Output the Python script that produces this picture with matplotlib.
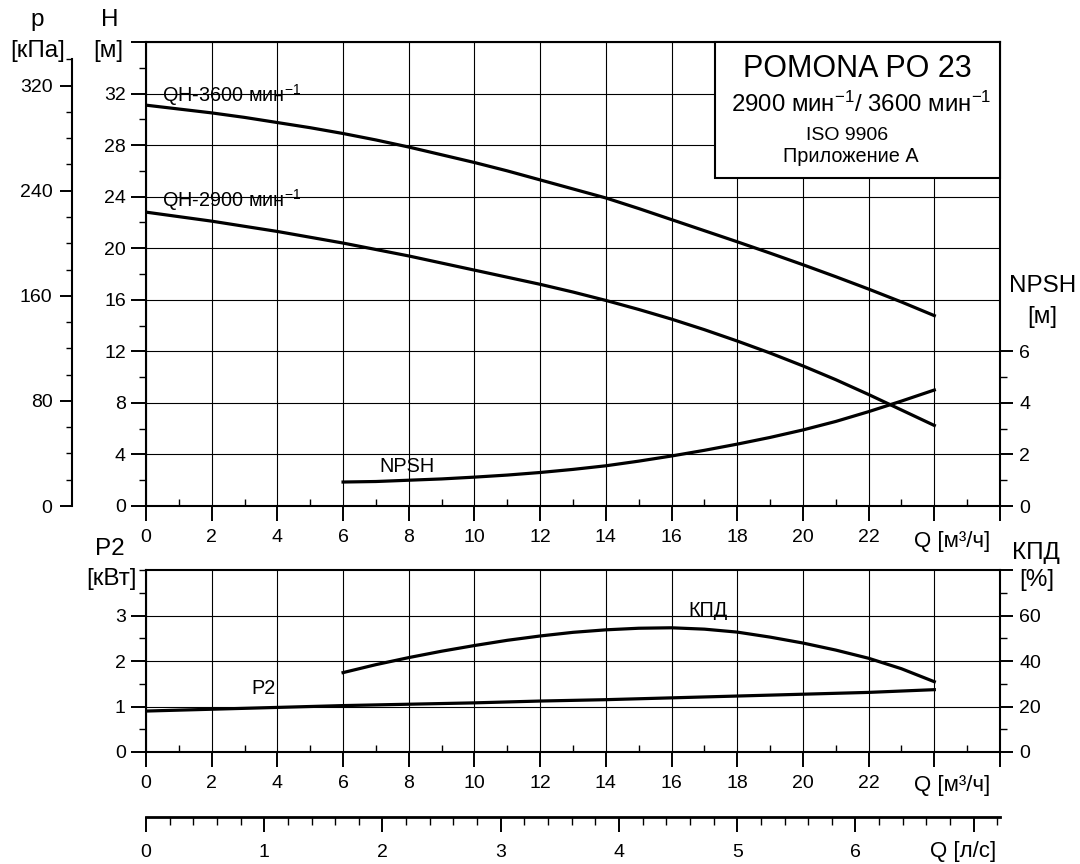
import matplotlib
matplotlib.use("Agg")
import matplotlib.pyplot as plt
from matplotlib.patches import Rectangle
from matplotlib.ticker import MultipleLocator, FixedLocator

plt.rcParams['font.family'] = ['Liberation Sans', 'DejaVu Sans']
plt.rcParams['mathtext.fontset'] = 'custom'
plt.rcParams['mathtext.rm'] = 'Liberation Sans'
plt.rcParams['mathtext.it'] = 'Liberation Sans:italic'

# --- data ---
q = list(range(0, 25))                                          # m3/h
h_3600 = [31.1, 30.8, 30.5, 30.15, 29.75, 29.35, 28.9, 28.4, 27.85, 27.25, 26.65, 26.0,
          25.3, 24.6, 23.9, 23.08, 22.22, 21.36, 20.5, 19.62, 18.72, 17.79, 16.83, 15.83,
          14.77]
h_2900 = [22.8, 22.45, 22.1, 21.7, 21.3, 20.85, 20.4, 19.9, 19.4, 18.85, 18.3, 17.75, 17.2,
          16.6, 15.95, 15.25, 14.5, 13.68, 12.8, 11.87, 10.87, 9.8, 8.65, 7.45, 6.25]

q_p2 = [0, 2, 4, 6, 8, 10, 12, 14, 16, 18, 20, 22, 24]
p2 = [0.9, 0.94, 0.98, 1.02, 1.05, 1.08, 1.12, 1.15, 1.19, 1.23, 1.27, 1.31, 1.37]

q_npsh = list(range(6, 25))
npsh = [0.93, 0.95, 1.0, 1.05, 1.12, 1.2, 1.3, 1.42, 1.56, 1.74, 1.94, 2.16, 2.4, 2.66,
        2.95, 3.28, 3.66, 4.07, 4.5]
eff = [34.9, 38.4, 41.5, 44.3, 46.8, 49.1, 51.0, 52.6, 53.7, 54.4, 54.6, 54.0, 52.7, 50.5,
       47.9, 44.8, 41.2, 36.6, 30.9]

q_labels = ['0', '2', '4', '6', '8', '10', '12', '14', '16', '18', '20', '22', '', '']
h_labels = ['0', '4', '8', '12', '16', '20', '24', '28', '32', '']
ls_labels = ['0', '1', '2', '3', '4', '5', '6', '']

W, H = 1080, 864
BLACK = 'black'
SPINE_W = 1.5
FS = 14
LBL = 17.5


def rect(l, t, r, b):
    return [l / W, 1 - b / H, (r - l) / W, (b - t) / H]


def ftext(x, y, s, size=LBL, ha='center', va='center'):
    fig.text(x / W, 1 - y / H, s, fontsize=size, ha=ha, va=va)


def style_q_axis(a):
    a.set_xlim(0, 26)
    a.xaxis.set_major_locator(FixedLocator(range(0, 27, 2)))
    a.xaxis.set_minor_locator(MultipleLocator(1))
    a.set_xticklabels(q_labels)
    a.tick_params(axis='x', which='major', direction='out', length=10.5,
                  width=1.4, pad=6, labelsize=FS)
    a.tick_params(axis='x', which='minor', direction='in', length=5, width=1)
    for s in a.spines.values():
        s.set_linewidth(SPINE_W)


fig = plt.figure(figsize=(10.8, 8.64), dpi=100)

# ---------------- top chart: H, p, NPSH ----------------
ax = fig.add_axes(rect(146, 42, 1000, 506))
style_q_axis(ax)
ax.set_ylim(0, 36)
ax.yaxis.set_major_locator(FixedLocator(range(0, 37, 4)))
ax.yaxis.set_minor_locator(MultipleLocator(2))
ax.set_yticklabels(h_labels)
ax.tick_params(axis='y', which='major', direction='out', length=10.5, width=1.4,
               pad=4, labelsize=FS)
ax.tick_params(axis='y', which='minor', direction='out', length=5, width=1)
ax.grid(True, which='major', color=BLACK, linewidth=0.8)
ax.set_axisbelow(True)

ax.plot(q, h_3600, color=BLACK, lw=2.3, zorder=3)
ax.plot(q, h_2900, color=BLACK, lw=2.3, zorder=3)
ax.text(0.5, 31.9, 'QH-3600 мин$^{-1}$', fontsize=14.3, va='center', zorder=4)
ax.text(0.5, 23.7, 'QH-2900 мин$^{-1}$', fontsize=14.3, va='center', zorder=4)

# info box
box_x0 = (715 - 146) / 854
box_y0 = (506 - 178) / 464
ax.add_patch(Rectangle((box_x0, box_y0), 1 - box_x0, 1 - box_y0, transform=ax.transAxes,
                       facecolor='white', edgecolor=BLACK, lw=SPINE_W, zorder=5,
                       clip_on=False))

# NPSH axis on the right
ax_n = ax.twinx()
ax_n.set_ylim(0, 18)
for s in ax_n.spines.values():
    s.set_visible(False)
ax_n.yaxis.set_major_locator(FixedLocator([0, 2, 4, 6]))
ax_n.yaxis.set_minor_locator(FixedLocator([1, 3, 5]))
ax_n.tick_params(axis='y', which='major', direction='out', length=9, width=1.4,
                 pad=5, labelsize=FS)
ax_n.tick_params(axis='y', which='minor', direction='out', length=5, width=1)
ax_n.plot(q_npsh, npsh, color=BLACK, lw=2.3, zorder=3)
ax_n.text(7.1, 1.55, 'NPSH', fontsize=14.3, va='center')

# pressure axis on the far left
ax_p = ax.twinx()
ax_p.set_ylim(0, 36 * 9.81)
for k in ['top', 'right', 'bottom']:
    ax_p.spines[k].set_visible(False)
ax_p.spines['left'].set_visible(True)
ax_p.spines['left'].set_position(('axes', -74 / 854))
ax_p.spines['left'].set_bounds(0, 340)
ax_p.spines['left'].set_linewidth(SPINE_W)
ax_p.yaxis.set_ticks_position('left')
ax_p.yaxis.set_major_locator(FixedLocator([0, 80, 160, 240, 320]))
ax_p.yaxis.set_minor_locator(FixedLocator([20, 40, 60, 100, 120, 140, 180, 200, 220,
                                           260, 280, 300, 340]))
ax_p.tick_params(axis='y', which='major', direction='out', length=9, width=1.4,
                 pad=5, labelsize=FS)
ax_p.tick_params(axis='y', which='minor', direction='out', length=4, width=1)

# ---------------- bottom chart: P2, efficiency ----------------
ax2 = fig.add_axes(rect(146, 570, 1000, 752))
style_q_axis(ax2)
ax2.set_ylim(0, 4)
ax2.yaxis.set_major_locator(FixedLocator([0, 1, 2, 3]))
ax2.yaxis.set_minor_locator(FixedLocator([0.5, 1.5, 2.5, 3.5, 4]))
ax2.tick_params(axis='y', which='major', direction='out', length=10.5, width=1.4,
                pad=4, labelsize=FS)
ax2.tick_params(axis='y', which='minor', direction='out', length=5, width=1)
ax2.grid(True, which='major', color=BLACK, linewidth=0.8)
ax2.set_axisbelow(True)
ax2.plot(q_p2, p2, color=BLACK, lw=2.3, zorder=3)
ax2.text(3.2, 1.39, 'P2', fontsize=14.3, va='center')

ax2r = ax2.twinx()
ax2r.set_ylim(0, 80)
for s in ax2r.spines.values():
    s.set_visible(False)
ax2r.yaxis.set_major_locator(FixedLocator([0, 20, 40, 60, 80]))
ax2r.yaxis.set_minor_locator(FixedLocator([10, 30, 50, 70]))
ax2r.set_yticklabels(['0', '20', '40', '60', ''])
ax2r.tick_params(axis='y', which='major', direction='out', length=9, width=1.4,
                 pad=5, labelsize=FS)
ax2r.tick_params(axis='y', which='minor', direction='out', length=5, width=1)
ax2r.plot(q_npsh, eff, color=BLACK, lw=2.3, zorder=3)
ax2r.text(16.5, 62.2, 'КПД', fontsize=14.3, va='center')

# ---------------- l/s scale ----------------
ax3 = fig.add_axes(rect(146, 816, 1000, 817))
ax3.set_xlim(0, 26 / 3.6)
ax3.set_yticks([])
for k in ['top', 'left', 'right']:
    ax3.spines[k].set_visible(False)
ax3.spines['bottom'].set_linewidth(SPINE_W + 0.5)
ax3.patch.set_visible(False)
ax3.xaxis.set_major_locator(FixedLocator(range(0, 8)))
ax3.xaxis.set_minor_locator(MultipleLocator(0.2))
ax3.set_xticklabels(ls_labels)
ax3.tick_params(axis='x', which='major', direction='out', length=10.5, width=1.4,
                pad=9, labelsize=FS)
ax3.tick_params(axis='x', which='minor', direction='out', length=6, width=1)

# ---------------- axis titles / units ----------------
ftext(37, 20, 'p')
ftext(38, 51, '[кПа]')
ftext(110, 20, 'H')
ftext(108, 51, '[м]')
ftext(1043, 286, 'NPSH')
ftext(1042, 317, '[м]')
ftext(952, 541, 'Q [м³/ч]', size=16)
ftext(110, 549, 'P2')
ftext(111, 579, '[кВт]')
ftext(1036, 553, 'КПД')
ftext(1037, 580, '[%]')
ftext(952, 786, 'Q [м³/ч]', size=16)
ftext(963, 852, 'Q [л/с]', size=16)

# box texts
ftext(857, 77, 'POMONA PO 23', size=22, va='baseline')
ftext(861, 112, '2900 мин$^{-1}$/ 3600 мин$^{-1}$', size=17.3, va='baseline')
ftext(847, 140, 'ISO 9906', size=14, va='baseline')
ftext(851, 162, 'Приложение А', size=14.3, va='baseline')

fig.savefig('out.png', dpi=100)
